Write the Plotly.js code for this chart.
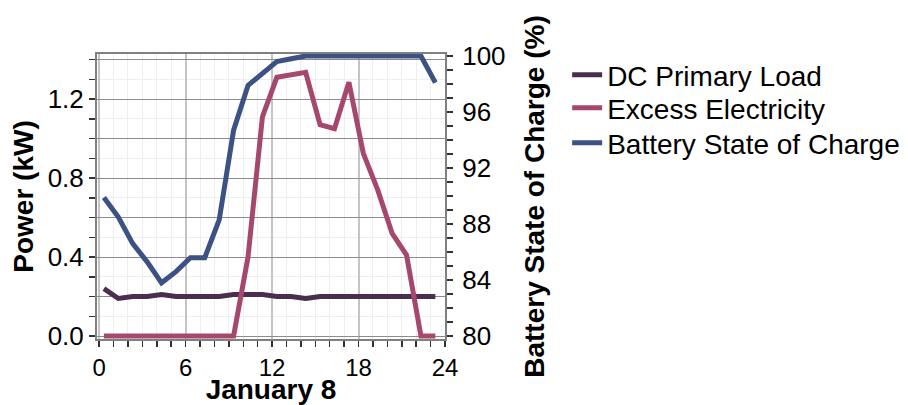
<!DOCTYPE html>
<html><head><meta charset="utf-8">
<script src="https://cdn.plot.ly/plotly-3.0.1.min.js"></script>
<style>html,body{margin:0;padding:0;background:#fff}#chart{width:908px;height:405px}</style>
</head><body><div id="chart"></div>
<script>
var hours = [0.33,1.33,2.33,3.33,4.33,5.33,6.33,7.33,8.33,9.33,10.33,11.33,12.33,13.33,14.33,15.33,16.33,17.33,18.33,19.33,20.33,21.33,22.33,23.33];
var dcPrimaryLoad = [0.24,0.19,0.20,0.20,0.21,0.20,0.20,0.20,0.20,0.21,0.21,0.21,0.20,0.20,0.19,0.20,0.20,0.20,0.20,0.20,0.20,0.20,0.20,0.20];
var excessElectricity = [0,0,0,0,0,0,0,0,0,0,0.40,1.11,1.31,1.32,1.335,1.07,1.05,1.285,0.925,0.74,0.52,0.41,0,0];
var batterySOC = [89.9,88.5,86.6,85.3,83.8,84.6,85.6,85.6,88.3,94.7,97.9,98.8,99.6,99.8,100,100,100,100,100,100,100,100,100,98.1];
var powerTickVals = [0,0.2,0.4,0.6,0.8,1.0,1.2,1.4];
var powerTickText = ['0.0','','0.4','','0.8','','1.2',''];
var names = ['DC Primary Load','Excess Electricity','Battery State of Charge'];
var colors = ['#4B2D4F','#A6486E','#3C5283'];

var traces = [
  {x:hours, y:dcPrimaryLoad, name:names[0], type:'scatter', mode:'lines', line:{color:colors[0], width:5}, yaxis:'y', legend:'legend'},
  {x:hours, y:excessElectricity, name:names[1], type:'scatter', mode:'lines', line:{color:colors[1], width:5}, yaxis:'y', legend:'legend2'},
  {x:hours, y:batterySOC, name:names[2], type:'scatter', mode:'lines', line:{color:colors[2], width:5}, yaxis:'y2', legend:'legend3'}
];
var font = 'Arial, "Liberation Sans", sans-serif';
function leg(y){ return {x:1.351, y:y, xanchor:'left', yanchor:'middle', font:{size:28, family:font}, bgcolor:'rgba(0,0,0,0)'}; }
var layout = {
  width:908, height:405,
  margin:{l:97, r:463, t:54, b:66, autoexpand:false},
  paper_bgcolor:'#fff', plot_bgcolor:'#fff',
  font:{family:font, color:'#000'},
  showlegend:true,
  legend:leg(0.926), legend2:leg(0.8105), legend3:leg(0.6877),
  xaxis:{
    range:[-0.15,24], tickmode:'linear', tick0:0, dtick:6,
    ticks:'outside', ticklen:6, tickwidth:1.5, tickcolor:'#333',
    showline:true, linecolor:'#808080', linewidth:2, mirror:true,
    showgrid:true, gridcolor:'#c4c4c4', gridwidth:2, zeroline:false,
    tickfont:{size:24},
    minor:{tickmode:'linear', tick0:0, dtick:1, ticks:'outside', ticklen:6, tickwidth:1.5, tickcolor:'#333', showgrid:true, gridcolor:'#eeeeee', gridwidth:1},
    title:{text:'<b>January 8</b>', font:{size:28}, standoff:5}
  },
  yaxis:{
    range:[-0.015,1.428], tickmode:'array', tickvals:powerTickVals, ticktext:powerTickText,
    ticks:'outside', ticklen:6, tickwidth:1.5, tickcolor:'#333',
    showline:true, linecolor:'#808080', linewidth:2,
    showgrid:true, gridcolor:'#8c8c8c', gridwidth:1, zeroline:false,
    tickfont:{size:26},
    minor:{tickmode:'linear', tick0:0, dtick:0.1, ticks:'outside', ticklen:6, tickwidth:1.5, tickcolor:'#333', showgrid:true, gridcolor:'#eeeeee', gridwidth:1},
    title:{text:'<b>Power (kW)</b>', font:{size:28}, standoff:6}
  },
  yaxis2:{
    overlaying:'y', side:'right', range:[79.79,100.14], tickmode:'linear', tick0:80, dtick:4,
    ticks:'outside', ticklen:6, tickwidth:1.5, tickcolor:'#333',
    showline:true, linecolor:'#808080', linewidth:2,
    showgrid:false, zeroline:false,
    tickfont:{size:26}, ticklabelstandoff:4,
    minor:{tickmode:'linear', tick0:80, dtick:1, ticks:'outside', ticklen:6, tickwidth:1.5, tickcolor:'#333', showgrid:false},
    title:{text:'<b>Battery State of Charge (%)</b>', font:{size:28}, standoff:20}
  }
};
Plotly.newPlot('chart', traces, layout, {displayModeBar:false, staticPlot:true});
</script></body></html>
